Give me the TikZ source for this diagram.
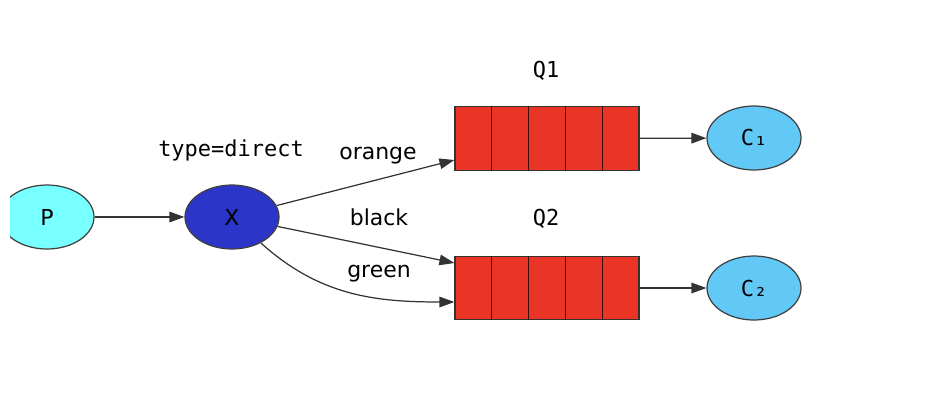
\documentclass[tikz,border=0pt]{standalone}
\usepackage{fontspec}
\setmainfont{DejaVu Sans}
\newfontfamily\monofont{DejaVu Sans Mono}
\usepackage{tikz}
\usetikzlibrary{positioning,arrows.meta,shapes.geometric,calc}

\definecolor{prodcol}{HTML}{78FFFF}
\definecolor{exchcol}{HTML}{2B36C8}
\definecolor{queuecol}{HTML}{EA3426}
\definecolor{conscol}{HTML}{62C8F6}

\begin{document}
\begin{tikzpicture}[
    client/.style={ellipse, draw=black!75, line width=0.7pt, minimum width=1.88cm, minimum height=1.28cm, inner sep=0pt, font=\fontsize{12.5}{14}\selectfont},
    queue/.style={rectangle, draw=black!80, line width=0.7pt, fill=queuecol, minimum width=3.68cm, minimum height=1.27cm, inner sep=0pt},
    lbl/.style={font=\fontsize{12.5}{14}\selectfont},
    arrow/.style={-{Triangle[length=8.5pt,width=6pt]}, draw=black!80, line width=0.7pt}
]
\useasboundingbox (0,0) rectangle (18.6,8.36);
\clip (0.2,0) rectangle (18.6,8.36);

% ============== PRODUCER, EXCHANGE ==============
\node[client, fill=prodcol] (prod) at (0.94,4.02) {P};
\node[client, fill=exchcol] (exch) at (4.64,4.02) {X};
\node[lbl] (exchType) at (4.62,5.36) {\monofont type=direct};

% ============== QUEUES ==============
\node[queue] (q1) at (10.94,5.59) {};
\node[queue] (q2) at (10.94,2.6) {};
\foreach \q in {q1,q2}
    \foreach \i in {1,...,4}
        \draw[black!75!queuecol, line width=0.7pt] ($(\q.south west)!\i/5!(\q.south east)$) -- ($(\q.north west)!\i/5!(\q.north east)$);
\node[lbl] (q1Name) at (10.92,6.94) {\monofont Q1};
\node[lbl] (q2Name) at (10.92,3.98) {\monofont Q2};

% ============== CONSUMERS ==============
\node[client, fill=conscol] (c1) at (15.08,5.6) {\monofont C₁};
\node[client, fill=conscol] (c2) at (15.08,2.6) {\monofont C₂};

% ============== BINDINGS ==============

% P -> X
\draw[arrow] (prod) -- (exch);

% X -> Q1 (orange)
\draw[arrow] (exch) -- ([yshift=-0.43cm]q1.west);
\node[lbl] (keyOrange) at (7.56,5.24) {orange};

% X -> Q2 (black)
\draw[arrow] (exch) -- ([yshift=0.5cm]q2.west);
\node[lbl] (keyBlack) at (7.58,4.02) {black};

% X -> Q2 (green)
\draw[arrow] (exch) to[out=-42,in=180] ([yshift=-0.28cm]q2.west);
\node[lbl] (keyGreen) at (7.58,2.88) {green};

% Queues -> Consumers
\draw[arrow] (q1) -- (c1);
\draw[arrow] (q2) -- (c2);

\end{tikzpicture}
\end{document}
